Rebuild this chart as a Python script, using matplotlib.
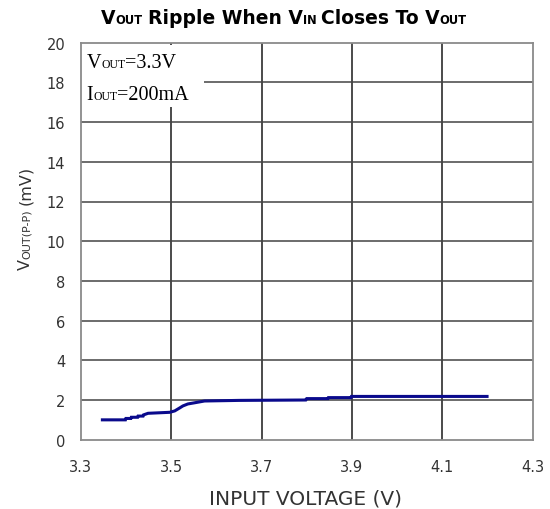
import matplotlib
matplotlib.use("Agg")
import matplotlib.pyplot as plt
from matplotlib.transforms import IdentityTransform
from matplotlib.patches import Rectangle

# ---- data ----
vin = [3.348, 3.399, 3.400, 3.411, 3.412, 3.426, 3.427, 3.438, 3.439, 3.449, 3.497,
       3.508, 3.519, 3.526, 3.537, 3.552, 3.574, 3.65, 3.798, 3.800, 3.847, 3.848,
       3.898, 3.899, 4.199]
ripple = [1.00, 1.00, 1.07, 1.07, 1.13, 1.13, 1.19, 1.19, 1.25, 1.33, 1.38,
          1.45, 1.60, 1.70, 1.80, 1.86, 1.95, 1.98, 2.00, 2.07, 2.07, 2.12,
          2.12, 2.18, 2.18]
xticks = [3.3, 3.5, 3.7, 3.9, 4.1, 4.3]
xtick_labels = ["3.3", "3.5", "3.7", "3.9", "4.1", "4.3"]
yticks = [0, 2, 4, 6, 8, 10, 12, 14, 16, 18, 20]

W, H = 550, 510
fig = plt.figure(figsize=(W / 100, H / 100), dpi=100)
ax = fig.add_axes([80.7 / W, (H - 440.7) / H, 452 / W, 397 / H])
ax.set_xlim(3.3, 4.3)
ax.set_ylim(0, 20)
ax.set_xticks(xticks)
ax.set_xticklabels(xtick_labels)
ax.set_yticks(yticks)

for lab in ax.get_xticklabels() + ax.get_yticklabels():
    lab.set_fontfamily("DejaVu Sans")
    lab.set_fontsize(10.5)
    lab.set_color("#333333")
ax.tick_params(axis="x", length=0, pad=14)
ax.tick_params(axis="y", length=0, pad=11)

for s in ax.spines.values():
    s.set_color("#8a8a8a")
    s.set_linewidth(1.3)

# grid
ax.grid(False)
for xv in xticks[1:-1]:
    ax.axvline(xv, color="#1a1a1a", lw=1.1, zorder=1)
for yv in yticks[1:-1]:
    ax.axhline(yv, color="#444444", lw=1.1, zorder=1)

# white box behind annotation text
ax.add_patch(Rectangle((3.3, 16.75), 0.272, 3.15, facecolor="white",
                       edgecolor="none", zorder=2))

ax.plot(vin, ripple, color="#0a0a8c", lw=2.2, zorder=3, solid_joinstyle="miter")

renderer = fig.canvas.get_renderer()


def chain(pieces, x, y, rotation=0, **common):
    """pieces: list of (text, size) or ('__gap__', px)"""
    for txt, val in pieces:
        if txt == "__gap__":
            if rotation == 0:
                x += val
            else:
                y += val
            continue
        t = fig.text(x, y, txt, transform=IdentityTransform(), fontsize=val,
                     ha="left", va="baseline", rotation=rotation,
                     rotation_mode="anchor", **common)
        bb = t.get_window_extent(renderer)
        if rotation == 0:
            x += bb.width
        else:
            y += bb.height


# Title
tf = dict(family="DejaVu Sans", weight="bold", color="black")
big, small = 13.5, 8.3
chain([("V", big), ("OUT", small), ("__gap__", 5), ("Ripple When V", big),
       ("IN", small), ("__gap__", 5), ("Closes To V", big), ("OUT", small)],
      101, H - 24, **tf)

# annotation text
sf = dict(family="Liberation Serif", color="black")
chain([("V", 14.5), ("OUT", 8.5), ("=3.3V", 14.5)], 86.5, H - 68.3, **sf)
chain([("I", 14.5), ("OUT", 8.5), ("=200mA", 14.5)], 86.5, H - 100, **sf)

# y label
lf = dict(family="DejaVu Sans", color="#333333")
chain([("V", 11.5), ("OUT(P-P)", 8.0), ("__gap__", 4), ("(mV)", 11.5)],
      30, H - 270, rotation=90, **lf)

# x label
fig.text(305.5 / W, (H - 505) / H, "INPUT VOLTAGE (V)", ha="center",
         va="baseline", family="DejaVu Sans", fontsize=14.5, color="#333333")

fig.savefig("out.png", dpi=100)
